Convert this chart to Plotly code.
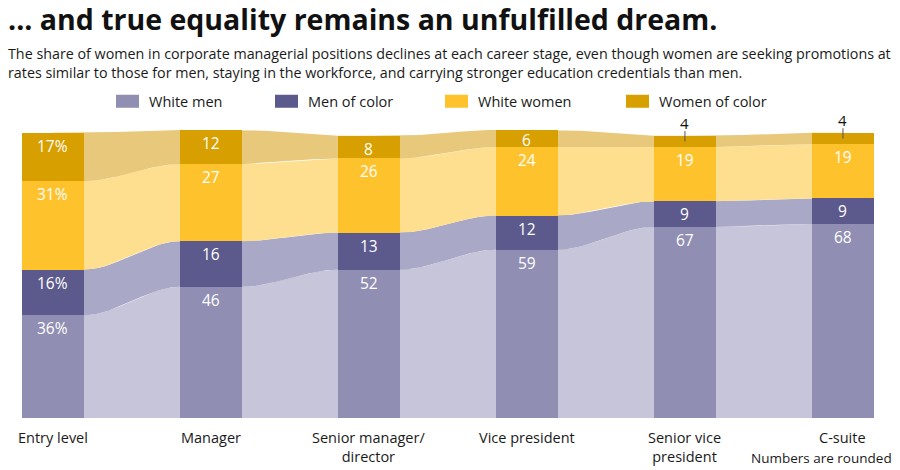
import numpy as np
import plotly.graph_objects as go

# ---------------- data ----------------
categories = ["Entry level", "Manager", "Senior manager/<br>director",
              "Vice president", "Senior vice<br>president", "C-suite"]
series_names = ["White men", "Men of color", "White women", "Women of color"]
white_men = [36, 46, 52, 59, 67, 68]
men_of_color = [16, 16, 13, 12, 9, 9]
white_women = [31, 27, 26, 24, 19, 19]
women_of_color = [17, 12, 8, 6, 4, 4]
label_suffix = ["%", "", "", "", "", ""]

series_values = [white_men, men_of_color, white_women, women_of_color]
bar_colors = ["#908eb2", "#5c5a8c", "#fec22d", "#d7a000"]
band_colors = ["#c6c5d9", "#a9a8c6", "#fddf8f", "#e8c97b"]

W, H = 900, 470
Y_MAX = 115
PX_PER_UNIT = 2.85
BASE_PIX = 418
M_B = H - BASE_PIX
plot_h = Y_MAX * PX_PER_UNIT
M_T = H - M_B - plot_h
FONT = "Open Sans"

x_pos = np.arange(len(categories))
bar_w = 0.392
x_range = [-0.335, 5.361]


def py(pix):
    """pixel y (from top) -> paper y"""
    return (H - M_B - pix) / plot_h


def px(pix):
    return pix / W


# cumulative stacks
vals = np.array(series_values, dtype=float)
tops = np.cumsum(vals, axis=0)
bottoms = tops - vals

fig = go.Figure()

# ---------------- bands (behind bars) ----------------
t = np.linspace(0, 1, 60)
s = t * t * (3 - 2 * t)
for k in range(len(series_names)):
    for i in range(len(categories) - 1):
        x0 = x_pos[i] + bar_w / 2
        x1 = x_pos[i + 1] - bar_w / 2
        xs = x0 + (x1 - x0) * t
        up = tops[k, i] + (tops[k, i + 1] - tops[k, i]) * s
        lo = bottoms[k, i] + (bottoms[k, i + 1] - bottoms[k, i]) * s
        xc = np.concatenate([[x_pos[i]], xs, [x_pos[i + 1]], [x_pos[i + 1]], xs[::-1], [x_pos[i]]])
        yc = np.concatenate([[tops[k, i]], up, [tops[k, i + 1]], [bottoms[k, i + 1]], lo[::-1], [bottoms[k, i]]])
        fig.add_trace(go.Scatter(x=xc, y=yc, mode="lines", fill="toself",
                                 fillcolor=band_colors[k], line=dict(width=0),
                                 hoverinfo="skip", showlegend=False,
                                 xaxis="x", yaxis="y"))

# ---------------- bars (on overlaying axis so they sit on top) ----------------
for k, name in enumerate(series_names):
    fig.add_trace(go.Bar(x=x_pos, y=series_values[k], width=bar_w, name=name,
                         marker=dict(color=bar_colors[k], line=dict(width=0)),
                         showlegend=False, xaxis="x2", yaxis="y"))

annotations = []
shapes = []

# value labels
for k in range(len(series_names)):
    for i in range(len(categories)):
        v = series_values[k][i]
        txt = f"{v}{label_suffix[i]}"
        if v >= 5:
            annotations.append(dict(x=x_pos[i], y=tops[k, i], xref="x", yref="y",
                                    text=txt, showarrow=False, yanchor="top",
                                    yshift=3 if v < 8 else 0,
                                    font=dict(family=FONT, size=15.5, color="white")))
        else:
            shapes.append(dict(type="line", xref="x", yref="y", x0=x_pos[i], x1=x_pos[i],
                               y0=tops[k, i] - 2.0, y1=tops[k, i] + 1.6,
                               line=dict(color="#555555", width=1)))
            annotations.append(dict(x=x_pos[i], y=tops[k, i] + 1.6, xref="x", yref="y",
                                    text=txt, showarrow=False, yanchor="bottom", yshift=-4,
                                    font=dict(family=FONT, size=15, color="#111111")))

# category labels
for i, c in enumerate(categories):
    annotations.append(dict(x=x_pos[i], y=0, xref="x", yref="y", text=c, showarrow=False,
                            yanchor="top", yshift=-8, align="center",
                            font=dict(family=FONT, size=14.5, color="#1a1a1a")))

annotations.append(dict(x=px(821), y=py(458), xref="paper", yref="paper",
                        text="Numbers are rounded", showarrow=False, xanchor="center",
                        yanchor="middle", font=dict(family=FONT, size=13.5, color="#1a1a1a")))

# title & subtitle
annotations.append(dict(x=px(6), y=py(19), xref="paper", yref="paper",
                        text="<b>... and true equality remains an unfulfilled dream.</b>",
                        showarrow=False, xanchor="left", yanchor="middle",
                        font=dict(family=FONT, size=28.5, color="#111111")))
annotations.append(dict(x=px(6), y=py(42), xref="paper", yref="paper",
                        text=("The share of women in corporate managerial positions declines at each career stage, even though women are seeking promotions at"
                              "<br>rates similar to those for men, staying in the workforce, and carrying stronger education credentials than men."),
                        showarrow=False, xanchor="left", yanchor="top", align="left",
                        font=dict(family=FONT, size=14.3, color="#1a1a1a")))

# legend (manual)
leg_sq = [116, 275, 445, 626]
for k, name in enumerate(series_names):
    shapes.append(dict(type="rect", xref="paper", yref="paper",
                       x0=px(leg_sq[k]), x1=px(leg_sq[k] + 23), y0=py(108), y1=py(95),
                       fillcolor=bar_colors[k], line=dict(width=0)))
    annotations.append(dict(x=px(leg_sq[k] + 31), y=py(102), xref="paper", yref="paper",
                            text=name, showarrow=False, xanchor="left", yanchor="middle",
                            font=dict(family=FONT, size=14.5, color="#1a1a1a")))

fig.update_layout(
    width=W, height=H,
    margin=dict(l=0, r=0, t=M_T, b=M_B, pad=0),
    paper_bgcolor="white", plot_bgcolor="white",
    barmode="stack", bargap=0,
    showlegend=False,
    xaxis=dict(range=x_range, visible=False, fixedrange=True),
    xaxis2=dict(range=x_range, visible=False, overlaying="x", fixedrange=True),
    yaxis=dict(range=[0, Y_MAX], visible=False, fixedrange=True),
    annotations=annotations, shapes=shapes,
)

fig.write_html("out.html", config={"displayModeBar": False},
               post_script="document.body.style.margin='0px';")
